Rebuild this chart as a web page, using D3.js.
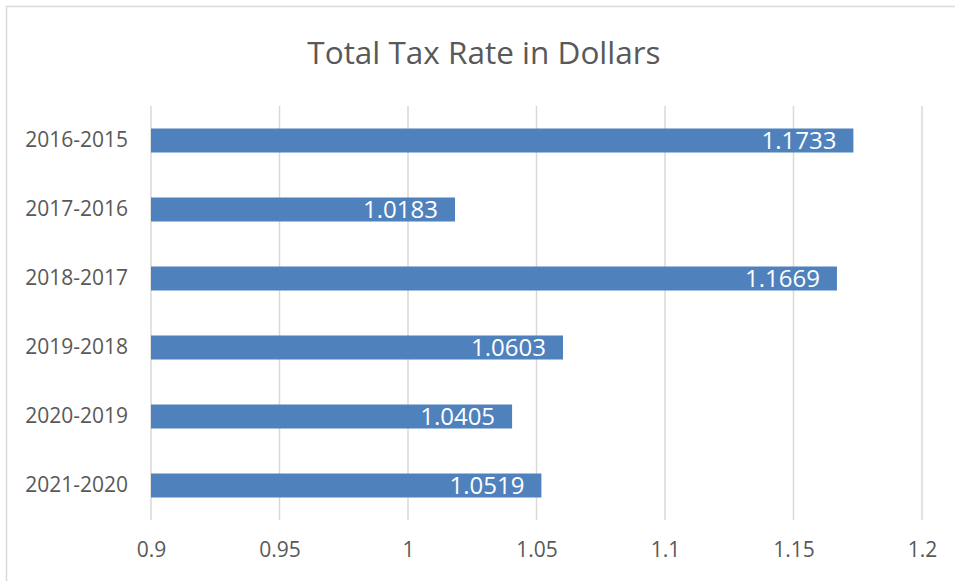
<!DOCTYPE html>
<html>
<head>
<meta charset="utf-8">
<script src="https://cdn.jsdelivr.net/npm/d3@7"></script>
<style>
  body { margin: 0; background: #fff; }
  text { font-family: "Open Sans", sans-serif; fill: #595959; }
</style>
</head>
<body>
<div class="center"></div>
<script>
const w = 955;
const h = 581;

const categories = ["2016-2015", "2017-2016", "2018-2017", "2019-2018", "2020-2019", "2021-2020"];
const values = [1.1733, 1.0183, 1.1669, 1.0603, 1.0405, 1.0519];
const tickValues = [0.9, 0.95, 1, 1.05, 1.1, 1.15, 1.2];

const plotLeft = 151, plotRight = 922, plotTop = 106, plotBottom = 520;

const svg = d3.select(".center")
    .append("svg")
    .attr("width", w)
    .attr("height", h);

// chart frame
svg.append("rect")
    .attr("x", 6.5).attr("y", 6.5)
    .attr("width", 970).attr("height", 600)
    .attr("fill", "none")
    .attr("stroke", "#d9d9d9")
    .attr("stroke-width", 1.5);

svg.append("text")
    .attr("x", 484)
    .attr("y", 64)
    .attr("text-anchor", "middle")
    .attr("font-size", 31.5)
    .text("Total Tax Rate in Dollars");

const xScale = d3.scaleLinear().domain([0.9, 1.2]).range([plotLeft, plotRight]);
const yScale = d3.scaleBand().domain(categories).range([plotTop, plotBottom]).paddingInner(0.652).paddingOuter(0.326);

// gridlines
svg.append("g")
    .selectAll("line")
    .data(tickValues)
    .enter()
    .append("line")
    .attr("x1", d => xScale(d))
    .attr("x2", d => xScale(d))
    .attr("y1", plotTop)
    .attr("y2", plotBottom)
    .attr("stroke", "#d9d9d9")
    .attr("stroke-width", 1.5);

const data = categories.map((c, i) => ({cat: c, v: values[i]}));

svg.selectAll("rect.bar")
    .data(data)
    .enter()
    .append("rect")
    .attr("class", "bar")
    .attr("x", xScale(0.9))
    .attr("y", d => yScale(d.cat))
    .attr("width", d => xScale(d.v) - xScale(0.9))
    .attr("height", yScale.bandwidth())
    .attr("fill", "#4f81bd");

svg.selectAll("text.val")
    .data(data)
    .enter()
    .append("text")
    .attr("class", "val")
    .attr("x", d => xScale(d.v) - 17)
    .attr("y", d => yScale(d.cat) + yScale.bandwidth() / 2)
    .attr("dy", "0.36em")
    .attr("text-anchor", "end")
    .attr("font-size", 24)
    .style("fill", "#fff")
    .text(d => d.v);

// category labels
const yAxis = d3.axisLeft(yScale).tickSize(0).tickPadding(23);
svg.append("g")
    .attr("transform", `translate(${plotLeft},0)`)
    .call(yAxis)
    .call(g => g.select(".domain").remove())
    .selectAll("text")
    .attr("font-size", 21)
    .attr("font-family", "Open Sans, sans-serif")
    .style("fill", "#595959");

// x axis labels
const xAxis = d3.axisBottom(xScale).tickValues(tickValues).tickSize(0).tickPadding(22).tickFormat(d => String(d));
svg.append("g")
    .attr("transform", `translate(0,${plotBottom})`)
    .call(xAxis)
    .call(g => g.select(".domain").remove())
    .selectAll("text")
    .attr("font-size", 21)
    .attr("font-family", "Open Sans, sans-serif")
    .style("fill", "#595959");
</script>
</body>
</html>
